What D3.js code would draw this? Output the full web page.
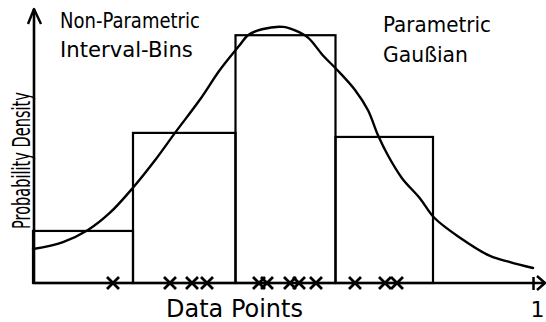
<!DOCTYPE html>
<html>
<head>
<meta charset="utf-8">
<script src="https://cdn.jsdelivr.net/npm/d3@7"></script>
<style>
  html, body { margin: 0; padding: 0; background: #fff; }
  svg { display: block; }
  text { font-family: "DejaVu Sans", sans-serif; fill: #000; }
</style>
</head>
<body>
<svg id="chart" width="546" height="322"></svg>
<script>
// ---- data ----
const binEdges = [0, 0.2, 0.405, 0.605, 0.8];
const binDensity = [0.437, 1.26, 2.08, 1.226];
const dataPoints = [0.16, 0.274, 0.318, 0.348, 0.452, 0.468, 0.514, 0.532, 0.566, 0.644, 0.704, 0.728];
const curveX = [0, 0.06, 0.11, 0.154, 0.2, 0.244, 0.284, 0.334, 0.374, 0.414, 0.43, 0.458, 0.5, 0.524, 0.55, 0.58, 0.608, 0.644, 0.67, 0.69, 0.71, 0.738, 0.774, 0.802, 0.854, 0.914, 0.954, 1.0];
const curveY = [0.285, 0.344, 0.445, 0.59, 0.80, 1.03, 1.26, 1.54, 1.79, 2.00, 2.08, 2.13, 2.15, 2.12, 2.06, 1.91, 1.79, 1.62, 1.45, 1.24, 1.07, 0.88, 0.71, 0.55, 0.38, 0.227, 0.176, 0.126];
const xTicks = [1];
const xTickLabels = ["1"];
const xTitle = "Data Points";
const yTitle = "Probability Density";
const leftLabel = ["Non-Parametric", "Interval-Bins"];
const rightLabel = ["Parametric", "Gaußian"];

// ---- layout ----
const svg = d3.select("#chart");
const x = d3.scaleLinear().domain([0, 1]).range([33, 533]);
const y = d3.scaleLinear().domain([0, 2.3]).range([283, 9]);
const ink = "#000";

// histogram bins
const bins = binDensity.map((d, i) => ({ x0: binEdges[i], x1: binEdges[i + 1], d }));
svg.append("g").selectAll("rect").data(bins).join("rect")
  .attr("x", b => x(b.x0))
  .attr("width", b => x(b.x1) - x(b.x0))
  .attr("y", b => y(b.d))
  .attr("height", b => y(0) - y(b.d))
  .attr("fill", "none")
  .attr("stroke", ink)
  .attr("stroke-width", 2.2);

// gaussian curve
const pts = curveX.map((v, i) => [v, curveY[i]]);
svg.append("path")
  .attr("d", d3.line().x(p => x(p[0])).y(p => y(p[1])).curve(d3.curveCatmullRom)(pts))
  .attr("fill", "none")
  .attr("stroke", ink)
  .attr("stroke-width", 2.4)
  .attr("stroke-linecap", "round");

// x axis
const xAxis = d3.axisBottom(x).tickValues(xTicks).tickFormat((d, i) => xTickLabels[i]).tickSize(7);
const gx = svg.append("g").attr("transform", `translate(0,${y(0)})`).call(xAxis);
gx.select(".domain").remove();
gx.selectAll(".tick line").attr("y1", -6).attr("y2", 7).attr("stroke", ink).attr("stroke-width", 2.5);
gx.selectAll(".tick text").attr("y", 34).attr("dy", 0).attr("dx", 4).attr("font-size", 22)
  .attr("font-family", "DejaVu Sans, sans-serif").attr("fill", ink);
svg.append("line")
  .attr("x1", x(0)).attr("x2", x(1) + 12)
  .attr("y1", y(0)).attr("y2", y(0))
  .attr("stroke", ink).attr("stroke-width", 2.6);
const xa = x(1) + 12, ya = y(0);
svg.append("path")
  .attr("d", `M${xa - 8},${ya - 7}L${xa},${ya}L${xa - 8},${ya + 7}`)
  .attr("fill", "none").attr("stroke", ink).attr("stroke-width", 2.4).attr("stroke-linejoin", "round");

// y axis
const yx = x(0) + 1, yt = y(2.3);
svg.append("line")
  .attr("x1", yx).attr("x2", yx)
  .attr("y1", y(0)).attr("y2", yt)
  .attr("stroke", ink).attr("stroke-width", 2.6);
svg.append("path")
  .attr("d", `M${yx - 6},${yt + 15}L${yx},${yt}L${yx + 7},${yt + 15}`)
  .attr("fill", "none").attr("stroke", ink).attr("stroke-width", 2.4).attr("stroke-linejoin", "round");

// data point crosses
const s = 6;
svg.append("g").selectAll("path").data(dataPoints).join("path")
  .attr("d", d => `M${x(d) - s},${y(0) - s}L${x(d) + s},${y(0) + s}M${x(d) + s},${y(0) - s}L${x(d) - s},${y(0) + s}`)
  .attr("stroke", ink).attr("stroke-width", 2.8).attr("fill", "none");

// text helper: narrow the text to a target length with a real transform
function label(str, tx, ty, size, len, rot) {
  const g = svg.append("g");
  const t = g.append("text").text(str).attr("font-size", size);
  const natural = t.node().getComputedTextLength();
  const k = len / natural;
  g.attr("transform", `translate(${tx},${ty})` + (rot ? ` rotate(${rot})` : "") + ` scale(${k},1)`);
  return t;
}

// titles
label(xTitle, 166, 317, 25, 137);
label(yTitle, 30, 229, 25, 137, -90);

// annotations
label(leftLabel[0], 60, 28, 21, 140);
label(leftLabel[1], 60, 57, 21, 133);
label(rightLabel[0], 383, 32, 22, 108);
label(rightLabel[1], 383, 62, 22, 85);
</script>
</body>
</html>
